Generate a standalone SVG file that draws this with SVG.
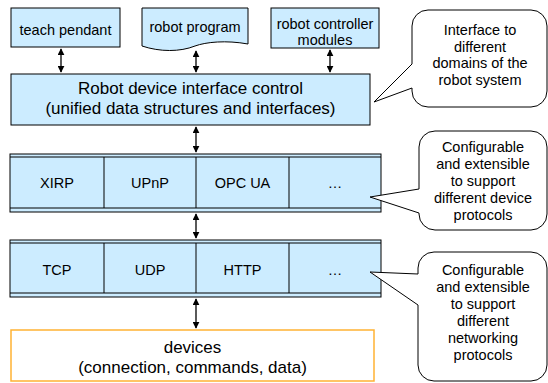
<svg xmlns="http://www.w3.org/2000/svg" width="548" height="383" viewBox="0 0 548 383">
<style>
.box{fill:#CCECFF;stroke:#000;stroke-width:1}
.ln{stroke:#000;stroke-width:1;fill:none}
.co{fill:#fff;stroke:#000;stroke-width:1}
.t{font-family:"Liberation Sans",Arial,sans-serif;font-size:14.5px;fill:#000;text-anchor:middle}
.tl{font-family:"Liberation Sans",Arial,sans-serif;font-size:17px;fill:#000;text-anchor:middle}
.ar{stroke:#000;stroke-width:1.3;fill:none;marker-start:url(#ah);marker-end:url(#ah)}
</style>
<defs>
<marker id="ah" viewBox="0 0 10 10" refX="9" refY="5" markerWidth="7" markerHeight="7" markerUnits="userSpaceOnUse" orient="auto-start-reverse">
<path d="M0,0 L10,5 L0,10 Z" fill="#000"/>
</marker>
</defs>
<rect width="548" height="383" fill="#fff"/>

<g id="teach-pendant">
<rect class="box" x="11" y="8" width="109" height="39"/>
<text class="t" x="65.5" y="35">teach pendant</text>
</g>
<g id="robot-program">
<path class="box" d="M142,8 H248 V44 C226,40 206,42 195,46 C180,52 160,52 142,46 Z"/>
<text class="t" x="195" y="32">robot program</text>
</g>
<g id="robot-controller-modules">
<rect class="box" x="271" y="8" width="108" height="40"/>
<text class="t" x="325" y="29">robot controller</text>
<text class="t" x="325" y="45">modules</text>
</g>

<g id="interface-control">
<rect class="box" x="11" y="74" width="359" height="51"/>
<text class="tl" x="190.5" y="94">Robot device interface control</text>
<text class="tl" x="190.5" y="114">(unified data structures and interfaces)</text>
</g>

<g id="device-protocols">
<rect class="box" x="10" y="154" width="371" height="58"/>
<path class="ln" d="M10,157 H381 M10,208 H381 M104,157 V208 M196,157 V208 M289,157 V208"/>
<text class="t" x="57" y="188">XIRP</text>
<text class="t" x="150" y="188">UPnP</text>
<text class="t" x="242.5" y="188">OPC UA</text>
<text class="t" x="335" y="188">…</text>
</g>

<g id="networking-protocols">
<rect class="box" x="10" y="240" width="371" height="57"/>
<path class="ln" d="M10,243 H381 M10,293 H381 M104,243 V293 M196,243 V293 M289,243 V293"/>
<text class="t" x="57" y="275">TCP</text>
<text class="t" x="150" y="275">UDP</text>
<text class="t" x="242.5" y="275">HTTP</text>
<text class="t" x="335" y="275">…</text>
</g>

<g id="devices">
<rect x="11" y="330" width="363" height="51" fill="#fff" stroke="#FFB233" stroke-width="1.5"/>
<text class="tl" x="192.5" y="353">devices</text>
<text class="tl" x="192.5" y="373">(connection, commands, data)</text>
</g>

<g id="callout-domains">
<path class="co" d="M412,64 L374,102 L412,88 V91 A16,16 0 0 0 428,107 H531 A16,16 0 0 0 547,91 V26 A16,16 0 0 0 531,10 H428 A16,16 0 0 0 412,26 Z"/>
<text class="t" x="480" y="35">Interface to</text>
<text class="t" x="480" y="52">different</text>
<text class="t" x="480" y="68">domains of the</text>
<text class="t" x="480" y="85">robot system</text>
</g>

<g id="callout-device">
<path class="co" d="M419,189 L370,197 L419,213 V214 A16,16 0 0 0 435,230 H531 A16,16 0 0 0 547,214 V147 A16,16 0 0 0 531,131 H435 A16,16 0 0 0 419,147 Z"/>
<text class="t" x="483" y="152">Configurable</text>
<text class="t" x="483" y="169">and extensible</text>
<text class="t" x="483" y="186">to support</text>
<text class="t" x="483" y="203">different device</text>
<text class="t" x="483" y="220">protocols</text>
</g>

<g id="callout-network">
<path class="co" d="M418,274 L370,272 L418,305 V365 A16,16 0 0 0 434,381 H531 A16,16 0 0 0 547,365 V268 A16,16 0 0 0 531,252 H434 A16,16 0 0 0 418,268 Z"/>
<text class="t" x="483" y="275">Configurable</text>
<text class="t" x="483" y="292">and extensible</text>
<text class="t" x="483" y="309">to support</text>
<text class="t" x="483" y="326">different</text>
<text class="t" x="483" y="343">networking</text>
<text class="t" x="483" y="360">protocols</text>
</g>

<g id="connectors">
<line class="ar" x1="61" y1="49" x2="61" y2="72"/>
<line class="ar" x1="196" y1="51" x2="196" y2="72"/>
<line class="ar" x1="330" y1="50" x2="330" y2="72"/>
<line class="ar" x1="196" y1="127" x2="196" y2="152"/>
<line class="ar" x1="196" y1="214" x2="196" y2="238"/>
<line class="ar" x1="196" y1="299" x2="196" y2="328"/>
</g>
</svg>
